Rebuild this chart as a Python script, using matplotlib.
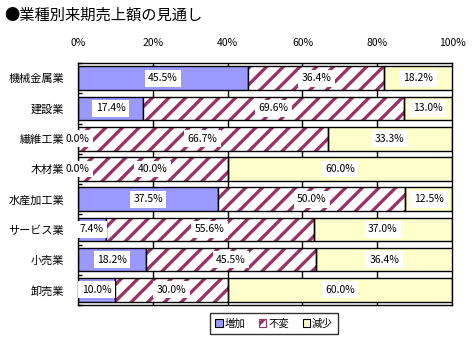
import numpy as np
import matplotlib.pyplot as plt

plt.rcParams['font.family'] = ['Noto Sans CJK JP', 'DejaVu Sans']

# 業種別の見通し (%)
categories = ['機械金属業', '建設業', '繊維工業', '木材業', '水産加工業', 'サービス業', '小売業', '卸売業']
zouka = [45.5, 17.4, 0.0, 0.0, 37.5, 7.4, 18.2, 10.0]
fuhen = [36.4, 69.6, 66.7, 40.0, 50.0, 55.6, 45.5, 30.0]
gensho = [18.2, 13.0, 33.3, 60.0, 12.5, 37.0, 36.4, 60.0]
series_names = ['増加', '不変', '減少']
xticklabels = ['0%', '20%', '40%', '60%', '80%', '100%']

fig = plt.figure(figsize=(4.75, 3.45), dpi=100)
ax = fig.add_axes([0.164, 0.116, 0.788, 0.701])

y = np.arange(len(categories))
h = 0.78
plt.rcParams['hatch.linewidth'] = 2.4

left = np.zeros(len(categories))
styles = [
    dict(color='#9999FF', hatch=None),
    dict(color='white', hatch='//'),
    dict(color='#FFFFCC', hatch=None),
]
for vals, st in zip([zouka, fuhen, gensho], styles):
    vals = np.array(vals)
    if st['hatch']:
        ax.barh(y, vals, left=left, height=h, facecolor='white', edgecolor='#993366',
                hatch=st['hatch'], linewidth=0, zorder=2)
        ax.barh(y, vals, left=left, height=h, facecolor='none', edgecolor='black',
                linewidth=1, zorder=3)
    else:
        ax.barh(y, vals, left=left, height=h, facecolor=st['color'], edgecolor='black',
                linewidth=1, zorder=2)
    for yi, l, v in zip(y, left, vals):
        ax.text(l + v / 2, yi, f'{v:.1f}%', ha='center', va='center', fontsize=7.5,
                zorder=5, bbox=dict(facecolor='white', edgecolor='none', pad=2.5))
    left = left + vals

ax.set_xlim(0, 100)
ax.set_ylim(len(categories) - 0.5, -0.5)
for gx in [20, 40, 60, 80]:
    ax.axvline(gx, color='black', linewidth=1, zorder=1)

ax.xaxis.tick_top()
ax.set_xticks([0, 20, 40, 60, 80, 100])
ax.set_xticklabels(xticklabels, fontsize=7.5)
ax.tick_params(axis='x', length=0, pad=11)
ax.set_yticks(y)
ax.set_yticklabels(categories, fontsize=8)
ax.tick_params(axis='y', length=0, pad=10)
ax.set_yticks(np.arange(len(categories) + 1) - 0.5, minor=True)
ax.tick_params(axis='y', which='minor', direction='in', length=3, width=1)
for s in ax.spines.values():
    s.set_linewidth(1)
    s.set_color('black')

fig.text(0.008, 0.955, '●業種別来期売上額の見通し', fontsize=11, ha='left', va='center')

# 凡例
handles = [
    plt.Rectangle((0, 0), 1, 1, facecolor='#9999FF', edgecolor='black', linewidth=0.8),
    plt.Rectangle((0, 0), 1, 1, facecolor='white', edgecolor='#993366', hatch='//', linewidth=0.8),
    plt.Rectangle((0, 0), 1, 1, facecolor='#FFFFCC', edgecolor='black', linewidth=0.8),
]
leg = fig.legend(handles, series_names, loc='center', bbox_to_anchor=(0.577, 0.062), ncol=3,
                 fontsize=7.5, frameon=True, fancybox=False, handlelength=0.7, handleheight=0.7,
                 handletextpad=0.2, columnspacing=1.3, borderpad=0.5)
leg.get_frame().set_edgecolor('black')
leg.get_frame().set_linewidth(1)

fig.savefig('out.png', dpi=100)
